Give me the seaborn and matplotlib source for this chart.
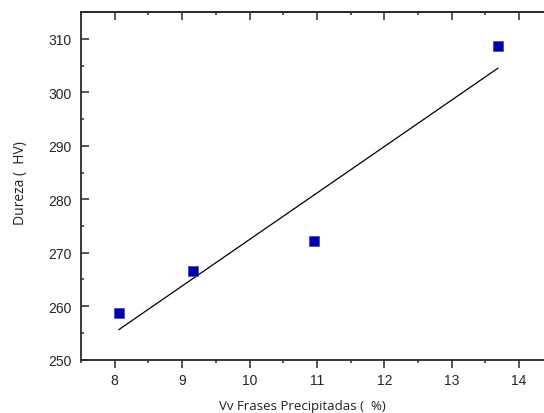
import numpy as np
import pandas as pd
import seaborn as sns
import matplotlib.pyplot as plt
from matplotlib.ticker import MultipleLocator

# dados
vv_fases = [8.06, 9.16, 10.95, 13.69]
dureza = [258.7, 266.5, 272.15, 308.7]

df = pd.DataFrame({'vv': vv_fases, 'hv': dureza})

# ajuste linear
coef = np.polyfit(df['vv'], df['hv'], 1)
x_fit = [min(vv_fases), max(vv_fases)]
df_fit = pd.DataFrame({'vv': x_fit, 'hv': np.polyval(coef, x_fit)})

sns.set_style('ticks')
plt.rcParams['font.family'] = ['Liberation Sans', 'DejaVu Sans']

fig = plt.figure(figsize=(5.44, 4.14), dpi=100)
ax = fig.add_axes([0.149, 0.129, 0.867, 0.839])

sns.lineplot(data=df_fit, x='vv', y='hv', color='black', linewidth=0.9, ax=ax)
sns.scatterplot(data=df, x='vv', y='hv', marker='s', s=45, color='#0000A8',
                edgecolor='#4040C0', linewidth=0.5, ax=ax, zorder=3)

ax.set_xlim(7.5, 14.5)
ax.set_ylim(250, 315)
ax.xaxis.set_major_locator(MultipleLocator(1))
ax.xaxis.set_minor_locator(MultipleLocator(0.5))
ax.yaxis.set_major_locator(MultipleLocator(10))
ax.yaxis.set_minor_locator(MultipleLocator(5))

for s in ['left', 'bottom', 'top']:
    ax.spines[s].set_linewidth(1.3)
    ax.spines[s].set_color('#2a2a2a')
ax.spines['right'].set_visible(False)

# eixo x: ticks para fora; eixo y: ticks para dentro
ax.tick_params(axis='x', which='major', direction='out', length=6, width=1.1,
               labelsize=10, pad=4, color='#2a2a2a')
ax.tick_params(axis='x', which='minor', direction='out', length=2.5, width=1.1, color='#2a2a2a')
ax.tick_params(axis='y', which='major', direction='in', length=6, width=1.1,
               labelsize=10, pad=7, color='#2a2a2a')
ax.tick_params(axis='y', which='minor', direction='in', length=2.5, width=1.1, color='#2a2a2a')

# ticks no topo para dentro
top = ax.secondary_xaxis('top')
top.xaxis.set_major_locator(MultipleLocator(1))
top.xaxis.set_minor_locator(MultipleLocator(0.5))
top.tick_params(which='major', direction='in', length=6, width=1.1, labeltop=False, color='#2a2a2a')
top.tick_params(which='minor', direction='in', length=2.5, width=1.1, color='#2a2a2a')
top.spines['top'].set_linewidth(1.3)
top.spines['top'].set_color('#2a2a2a')

ax.set_xlabel('Vv Frases Precipitadas (  %)', family=['Open Sans', 'DejaVu Sans'],
              fontsize=9.5, color='#222222')
ax.xaxis.set_label_coords(0.4685, -0.114)
ax.set_ylabel('Dureza (  HV)', family=['Open Sans', 'DejaVu Sans'],
              fontsize=10, color='#222222')
ax.yaxis.set_label_coords(-0.112, 0.51)

fig.savefig('out.png', dpi=100)
